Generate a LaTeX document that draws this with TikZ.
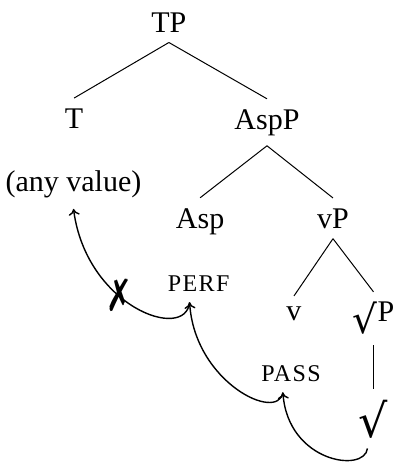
\documentclass[tikz,border=0pt]{standalone}
\usepackage{fontspec}
\setmainfont{Liberation Serif}
\newfontfamily\pSymFont{DejaVu Serif}
\usepackage{pifont}
\usetikzlibrary{arrows.meta}
\newcommand{\pFeat}[1]{{\fontsize{12}{14}\selectfont\addfontfeature{LetterSpace=6}#1}}
\newcommand{\pRoot}[1]{\raisebox{-0.4em}{{\pSymFont\fontsize{#1}{#1}\selectfont √}}}
\newcommand{\pBlock}{{\fontsize{16}{18}\selectfont\scalebox{1}[1.4]{\ding{55}}}}

\begin{document}
\fontsize{15}{18}\selectfont
\begin{tikzpicture}[x=1em,y=-1em,
  cat/.style={anchor=base, inner sep=5pt},
  branch/.style={line width=0.5pt},
  move/.style={-{To[length=3.2pt,width=5.5pt]}, line width=0.7pt}]
\useasboundingbox (0,0) rectangle (13.133,15.467);
\node[cat] (tp) at (5.63,1.07) {TP};
\node[cat] (t) at (2.47,4.27) {T};
\node[cat] (aspp) at (8.9,4.3) {AspP};
\node[cat] (anyval) at (2.45,6.4) {(any value)};
\node[cat] (asp) at (6.67,7.6) {Asp};
\node[cat] (vp) at (11.1,7.6) {vP};
\node[cat] (perf) at (6.62,9.73) {\pFeat{PERF}};
\node[cat] (v) at (9.8,10.67) {v};
\node[cat] (rootp) at (12.45,10.73) {\pRoot{19.5}P};
\node[cat] (pass) at (9.7,12.73) {\pFeat{PASS}};
\node[cat] (root) at (12.45,14.17) {\pRoot{23}};
\draw[branch] (tp.south) -- (t.north);
\draw[branch] (tp.south) -- (aspp.north);
\draw[branch] (aspp.south) -- (asp.north);
\draw[branch] (aspp.south) -- (vp.north);
\draw[branch] (vp.south) -- (v.north);
\draw[branch] (vp.south) -- (rootp.north);
\draw[branch] (rootp.south) -- (root.north);
\draw[move] ([xshift=-0.3em]perf.south) .. controls +(-0.13,1.33) and +(0.43,3.27) .. (anyval.south)
  node[pos=0.6, inner sep=0pt] (block) {\pBlock};
\draw[move] ([xshift=-0.27em]pass.south) .. controls +(-0.17,1) and +(0.17,2.67) .. ([xshift=-0.3em]perf.south);
\draw[move] ([xshift=-0.2em]root.south) .. controls +(-0.1,0.83) and +(0.17,2.33) .. ([xshift=-0.27em]pass.south);
\end{tikzpicture}
\end{document}
